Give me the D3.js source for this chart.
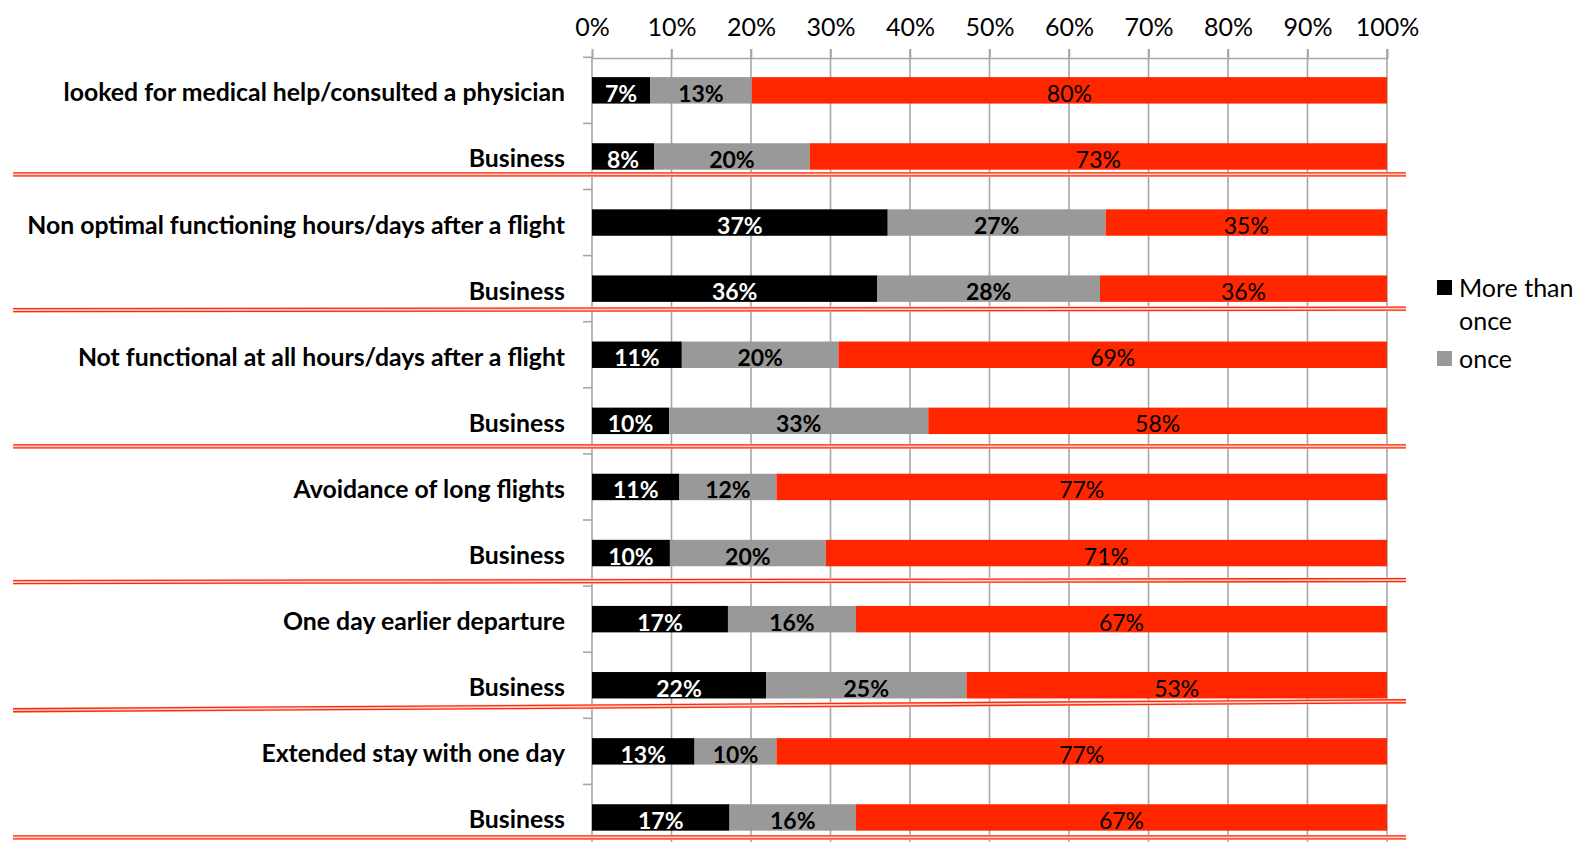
<!DOCTYPE html>
<html>
<head>
<meta charset="utf-8">
<script src="https://cdn.jsdelivr.net/npm/d3@7"></script>
<style>
  html, body { margin: 0; padding: 0; background: #fff; }
  svg { display: block; }
  text { font-family: Lato, "Open Sans", sans-serif; }
</style>
</head>
<body>
<svg id="chart" width="1573" height="842"></svg>
<script>
// ---- data ----
const categories = [
  "looked for medical help/consulted a physician", "Business",
  "Non optimal functioning hours/days after a flight", "Business",
  "Not functional at all hours/days after a flight", "Business",
  "Avoidance of long flights", "Business",
  "One day earlier departure", "Business",
  "Extended stay with one day", "Business"
];
const seriesNames = ["More than once", "once", "never"];
const moreThanOnce = [7.3, 7.8, 37.2, 35.9, 11.3, 9.7, 11.0, 9.8, 17.1, 21.9, 12.9, 17.3];
const once         = [12.8, 19.6, 27.4, 28.0, 19.7, 32.6, 12.2, 19.6, 16.1, 25.2, 10.3, 15.9];
const never        = [79.9, 72.6, 35.4, 36.1, 69.0, 57.7, 76.8, 70.6, 66.8, 52.9, 76.8, 66.8];
const tickValues = [0, 10, 20, 30, 40, 50, 60, 70, 80, 90, 100];
const legendLabels = [["More than", "once"], ["once"]];

// ---- layout / style ----
const colors = ["#000000", "#999999", "#ff2600"];
const labelColors = ["#ffffff", "#000000", "#000000"];
const labelWeights = ["bold", "bold", "normal"];
const gridColor = "#a6a6a6";

const svg = d3.select("#chart");
const x = d3.scaleLinear().domain([0, 100]).range([592, 1387]);
const y = d3.scaleBand().domain(d3.range(categories.length))
  .range([57.3, 850.5]).paddingInner(0.6).paddingOuter(0.3);

const rows = categories.map((c, i) => ({ i, c, vals: [moreThanOnce[i], once[i], never[i]] }));
const stackData = rows.map(r => { const o = { i: r.i }; seriesNames.forEach((s, k) => o[s] = r.vals[k]); return o; });
const stack = d3.stack().keys(seriesNames)(stackData);

// gridlines
const grid = svg.append("g");
grid.selectAll("line").data(tickValues.slice(1)).join("line")
  .attr("x1", d => x(d)).attr("x2", d => x(d))
  .attr("y1", 49).attr("y2", 842)
  .attr("stroke", gridColor).attr("stroke-width", 1.6);

// top axis
const topAxis = d3.axisTop(x).tickValues(tickValues).tickFormat(d => d + "%").tickSize(9).tickPadding(13);
const gTop = svg.append("g").attr("transform", "translate(0,58)").call(topAxis);
gTop.select(".domain").attr("stroke", gridColor).attr("stroke-width", 1.6);
gTop.selectAll(".tick line").attr("stroke", gridColor).attr("stroke-width", 1.6);
gTop.selectAll(".tick text").attr("font-size", 25).attr("fill", "#000")
  .attr("font-family", "Lato, 'Open Sans', sans-serif");

// left axis line and ticks at band boundaries
const step = y.step();
const y0 = y.range()[0];
svg.append("line").attr("x1", x(0)).attr("x2", x(0)).attr("y1", 58).attr("y2", 842)
  .attr("stroke", gridColor).attr("stroke-width", 1.6);
svg.append("g").selectAll("line").data(d3.range(categories.length + 1)).join("line")
  .attr("x1", x(0) - 9).attr("x2", x(0))
  .attr("y1", k => y0 + k * step).attr("y2", k => y0 + k * step)
  .attr("stroke", gridColor).attr("stroke-width", 1.6);

// bars
const bars = svg.append("g");
stack.forEach((layer, k) => {
  bars.append("g").selectAll("rect").data(layer).join("rect")
    .attr("x", d => x(d[0]))
    .attr("width", d => x(d[1]) - x(d[0]))
    .attr("y", d => y(d.data.i))
    .attr("height", y.bandwidth())
    .attr("fill", colors[k]);
});

// value labels
const fmt = d3.format(".0f");
stack.forEach((layer, k) => {
  svg.append("g").selectAll("text").data(layer).join("text")
    .attr("x", d => (x(d[0]) + x(d[1])) / 2)
    .attr("y", d => y(d.data.i) + y.bandwidth() / 2 + 11.5)
    .attr("text-anchor", "middle")
    .attr("font-size", 23)
    .attr("font-weight", labelWeights[k])
    .attr("fill", labelColors[k])
    .text(d => fmt(d[1] - d[0]) + "%");
});

// category labels
svg.append("g").selectAll("text").data(rows).join("text")
  .attr("x", 565)
  .attr("y", d => y(d.i) + y.bandwidth() / 2 + 11)
  .attr("text-anchor", "end")
  .attr("font-size", 24.8)
  .attr("font-weight", "bold")
  .attr("fill", "#000")
  .text(d => d.c);

// separators (double red lines under each "Business" row)
const sepOffsets = [[18, 18], [21.5, 20], [25.5, 25.5], [29, 27], [25, 16], [20, 20]];
const seps = svg.append("g");
rows.filter(r => r.i % 2 === 1).forEach((r, j) => {
  const c = y(r.i) + y.bandwidth() / 2;
  const yl = c + sepOffsets[j][0], yr = c + sepOffsets[j][1];
  seps.append("path")
    .attr("d", `M13,${yl - 2.5}L1406,${yr - 2.5}L1406,${yr + 2.5}L13,${yl + 2.5}Z`)
    .attr("fill", "#ffd2ca");
  [-1.5, 1.5].forEach(o => {
    seps.append("line").attr("x1", 13).attr("x2", 1406)
      .attr("y1", yl + o).attr("y2", yr + o)
      .attr("stroke", "#ff2a0a").attr("stroke-width", 1.3);
  });
});

// legend
const legend = svg.append("g");
legendLabels.forEach((lines, k) => {
  const top = k === 0 ? 280 : 351;
  legend.append("rect").attr("x", 1437).attr("y", top).attr("width", 15).attr("height", 15)
    .attr("fill", colors[k]);
  lines.forEach((t, m) => {
    legend.append("text").attr("x", 1459).attr("y", top + 17 + m * 33)
      .attr("font-size", 25).attr("fill", "#000").text(t);
  });
});
</script>
</body>
</html>
